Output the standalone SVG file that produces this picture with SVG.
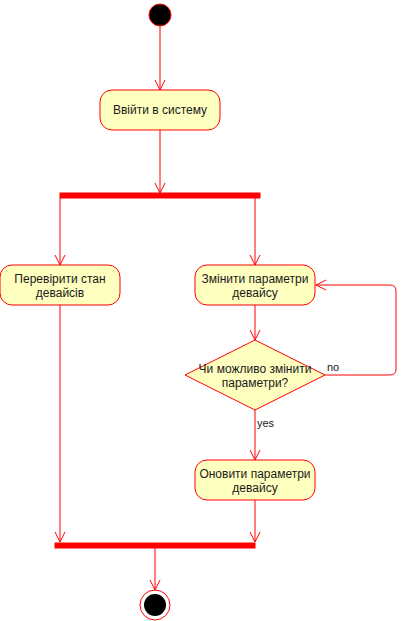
<svg xmlns="http://www.w3.org/2000/svg" width="406" height="621" viewBox="0 0 406 621">
  <style>
    .act { fill: #ffffc0; stroke: #ff0000; stroke-width: 1; }
    .bar { fill: #ff0000; stroke: #ff0000; stroke-width: 1; }
    .edge { fill: none; stroke: #ff0000; stroke-width: 1; }
    .lbl { font-family: "Liberation Sans", Arial, sans-serif; font-size: 12px; fill: #1a1a1a; text-anchor: middle; }
    .elbl { font-family: "Liberation Sans", Arial, sans-serif; font-size: 11px; fill: #1a1a1a; }
  </style>
  <defs>
    <marker id="open" viewBox="0 0 12 12" refX="11" refY="6" markerWidth="12" markerHeight="12" markerUnits="userSpaceOnUse" orient="auto">
      <path d="M1,1 L11,6 L1,11" fill="none" stroke="#ff0000" stroke-width="1"/>
    </marker>
  </defs>
  <rect width="406" height="621" fill="#ffffff"/>

  <g id="connectors">
    <path class="edge" d="M160,26 L160,90" marker-end="url(#open)"/>
    <path class="edge" d="M160,130 L160,193" marker-end="url(#open)"/>
    <path class="edge" d="M60,198 L60,265" marker-end="url(#open)"/>
    <path class="edge" d="M255,198 L255,265" marker-end="url(#open)"/>
    <path class="edge" d="M255,305 L255,340" marker-end="url(#open)"/>
    <path class="edge" d="M325,375 L390,375 Q396,375 396,369 L396,291 Q396,285 390,285 L316,285" marker-end="url(#open)"/>
    <path class="edge" d="M255,410 L255,460" marker-end="url(#open)"/>
    <path class="edge" d="M60,305 L60,542" marker-end="url(#open)"/>
    <path class="edge" d="M255,500 L255,542" marker-end="url(#open)"/>
    <path class="edge" d="M155,548 L155,590" marker-end="url(#open)"/>
    <text class="elbl" x="327" y="371">no</text>
    <text class="elbl" x="257" y="427">yes</text>
  </g>

  <g id="start">
    <circle cx="160" cy="15" r="11" fill="#000000" stroke="#ff0000" stroke-width="1"/>
  </g>

  <g id="login">
    <rect class="act" x="100" y="90" width="120" height="40" rx="12" ry="12"/>
    <text class="lbl" x="160" y="114">Ввійти в систему</text>
  </g>

  <g id="fork">
    <rect class="bar" x="60" y="193" width="200" height="5"/>
  </g>

  <g id="check">
    <rect class="act" x="0" y="265" width="120" height="40" rx="12" ry="12"/>
    <text class="lbl" x="60" y="283">Перевірити стан</text>
    <text class="lbl" x="60" y="297">девайсів</text>
  </g>

  <g id="change">
    <rect class="act" x="195" y="265" width="120" height="40" rx="12" ry="12"/>
    <text class="lbl" x="255" y="283">Змінити параметри</text>
    <text class="lbl" x="255" y="297">девайсу</text>
  </g>

  <g id="decision">
    <polygon class="act" points="255,340 325,375 255,410 185,375"/>
    <text class="lbl" x="255" y="373">Чи можливо змінити</text>
    <text class="lbl" x="255" y="387">параметри?</text>
  </g>

  <g id="update">
    <rect class="act" x="195" y="460" width="120" height="40" rx="12" ry="12"/>
    <text class="lbl" x="255" y="478">Оновити параметри</text>
    <text class="lbl" x="255" y="492">девайсу</text>
  </g>

  <g id="join">
    <rect class="bar" x="55" y="543" width="200" height="5"/>
  </g>

  <g id="end">
    <circle cx="155" cy="605" r="15" fill="#ffffff" stroke="#ff0000" stroke-width="1"/>
    <circle cx="155" cy="605" r="11" fill="#000000"/>
  </g>
</svg>
